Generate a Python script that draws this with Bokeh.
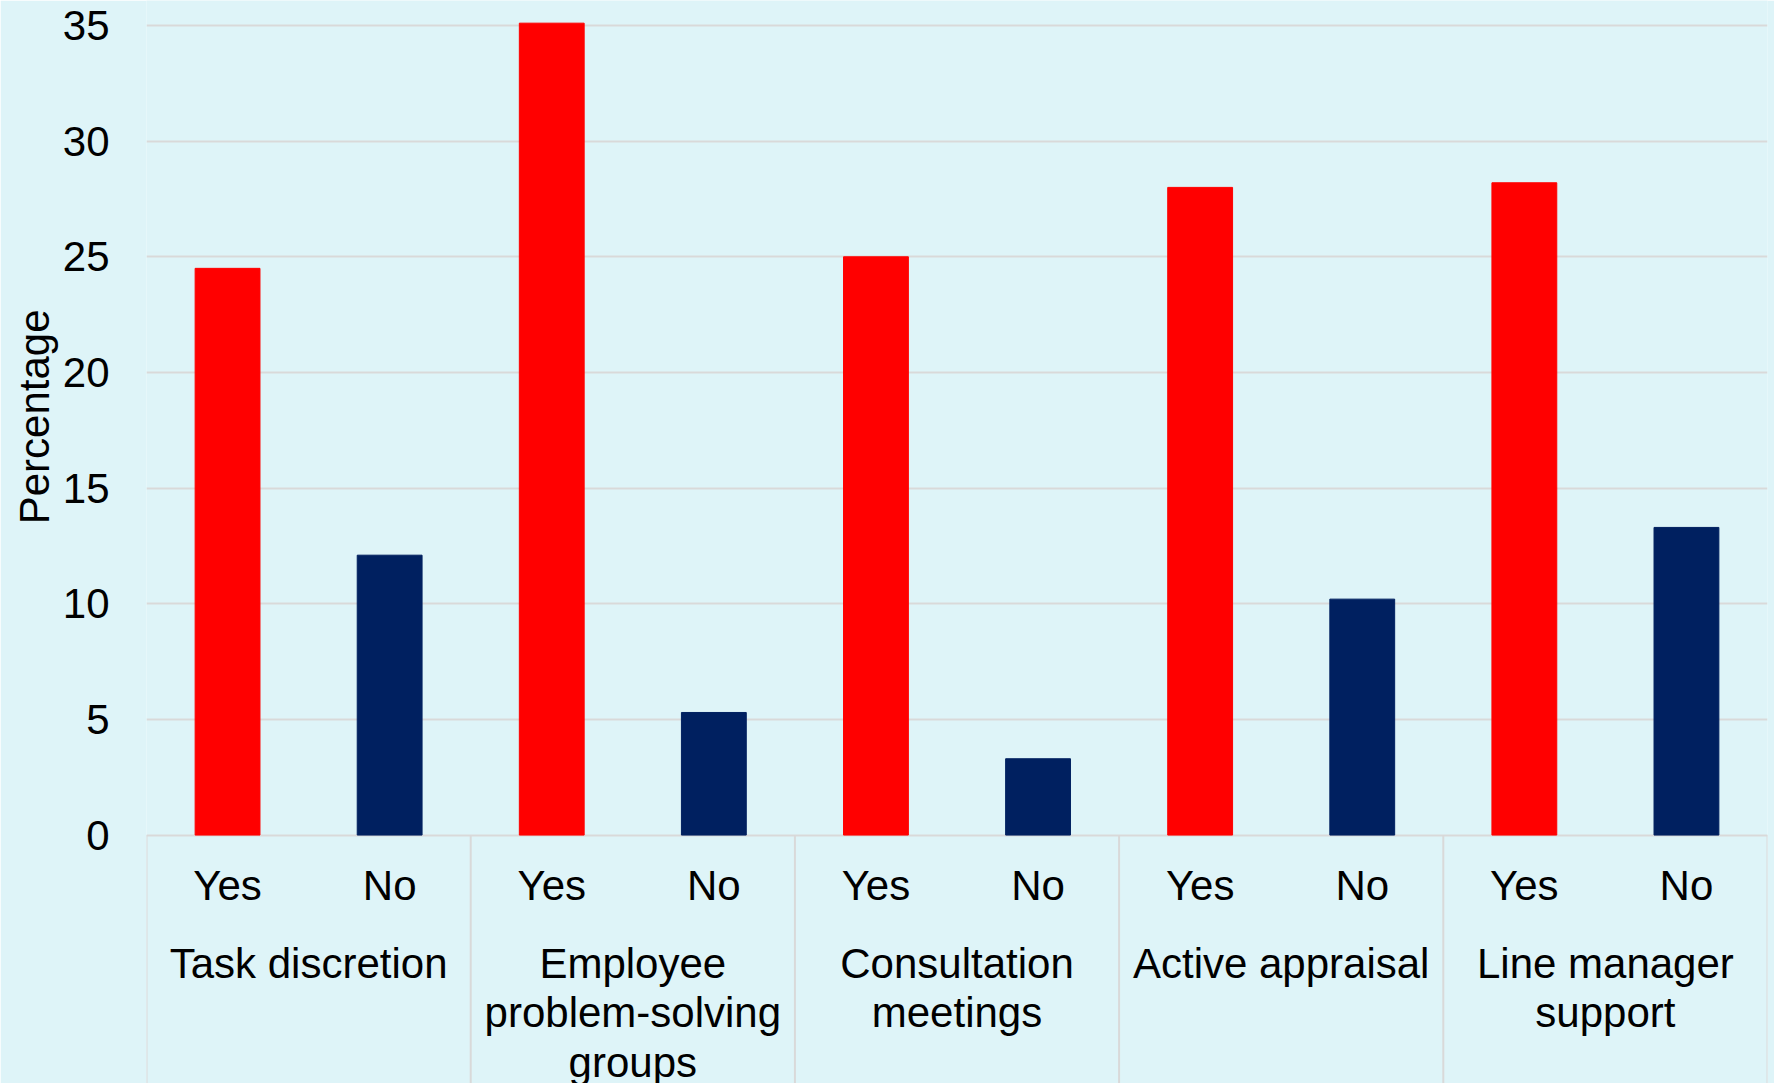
import numpy as np
from bokeh.plotting import figure
from bokeh.models import FactorRange, Range1d, FixedTicker, ColumnDataSource, Title
from bokeh.core.properties import value
from bokeh.embed import file_html
from bokeh.resources import INLINE

# ---- data ----
groups = ["Task discretion", "Employee problem-solving groups",
          "Consultation meetings", "Active appraisal", "Line manager support"]
group_labels = ["Task discretion", "Employee\nproblem-solving\ngroups",
                "Consultation\nmeetings", "Active appraisal", "Line manager\nsupport"]
responses = ["Yes", "No"]
yes_values = [24.5, 35.1, 25.0, 28.0, 28.2]
no_values = [12.1, 5.3, 3.3, 10.2, 13.3]
y_ticks = [0, 5, 10, 15, 20, 25, 30, 35]
y_title = "Percentage"

# ---- styles ----
FONT = "Liberation Sans"
FS = "42px"
BG = "#DEF4F8"
GRID = "#D9D9D9"
COLORS = {"Yes": "#FF0000", "No": "#002060"}

factors = [(g, r) for g in groups for r in responses]
vals = []
for y, n in zip(yes_values, no_values):
    vals += [y, n]
colors = [COLORS[r] for g, r in factors]

y_lo, y_hi = -10.74, 36.08

p = figure(width=1774, height=1083,
           x_range=FactorRange(*factors, factor_padding=0, group_padding=0,
                               subgroup_padding=0, range_padding=0),
           y_range=Range1d(y_lo, y_hi),
           output_backend="svg", toolbar_location=None,
           min_border_left=146, min_border_right=7,
           min_border_top=0, min_border_bottom=0)
p.background_fill_color = BG
p.border_fill_color = BG
p.outline_line_color = None

src = ColumnDataSource(dict(x=factors, top=vals, color=colors,
                            lab=[r for g, r in factors], y0=[0] * len(factors)))
p.vbar(x="x", top="top", width=0.4, color="color", source=src)

# sub-category labels
p.text(x="x", y="y0", text="lab", source=src, y_offset=50,
       text_align="center", text_baseline="alphabetic",
       text_font=value(FONT), text_font_size=FS, text_color="black")

# group labels
gsrc = ColumnDataSource(dict(x=groups, y=[0] * len(groups), t=group_labels))
p.text(x="x", y="y", text="t", source=gsrc, y_offset=105,
       text_align="center", text_baseline="top", text_line_height=1.05,
       text_font=value(FONT), text_font_size=FS, text_color="black")

# group separators
sep_x = [[g, responses[0], -0.5] for g in groups] + [[groups[-1], responses[-1], 0.5]]
p.segment(x0=sep_x, x1=sep_x, y0=[0] * len(sep_x), y1=[y_lo] * len(sep_x),
          line_color=GRID, line_width=2)

p.xaxis.visible = False
p.xgrid.visible = False

p.yaxis.ticker = FixedTicker(ticks=y_ticks)
p.yaxis.axis_line_color = None
p.yaxis.major_tick_line_color = None
p.yaxis.major_tick_out = 0
p.yaxis.major_tick_in = 0
p.yaxis.minor_tick_line_color = None
p.yaxis.major_label_standoff = 37
p.yaxis.major_label_text_font = FONT
p.yaxis.major_label_text_font_size = FS
p.yaxis.major_label_text_color = "black"

# y-axis title, placed over the 0..36 value span like the reference
p.add_layout(Title(text=y_title, align="right", offset=309, standoff=4,
                   text_font=FONT, text_font_size=FS, text_font_style="normal",
                   text_color="black"), "left")

p.ygrid.ticker = FixedTicker(ticks=y_ticks)
p.ygrid.grid_line_color = GRID
p.ygrid.grid_line_width = 2

open("out.html", "w").write(file_html(p, INLINE))
